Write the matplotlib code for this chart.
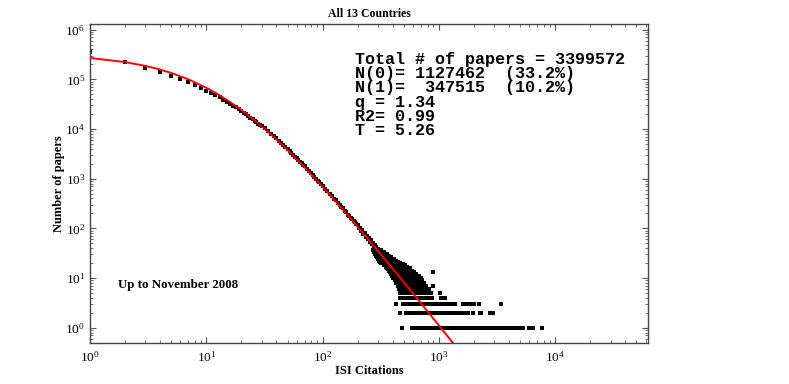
import numpy as np
import matplotlib.pyplot as plt

plt.rcParams['font.family'] = ['Liberation Serif', 'DejaVu Serif']
plt.rcParams['mathtext.fontset'] = 'stix'

# number of papers per citation value (upper, dense part)
cites = [1, 2, 3, 4, 5, 6, 7, 8, 9, 10, 11, 12, 13, 14, 15, 16, 17, 18, 19, 20,
         21, 22, 23, 24, 25, 26, 27, 28, 29, 30, 32, 34, 36, 38, 40, 42, 44, 46, 48,
         50, 52, 54, 56, 58, 60, 62, 64, 66, 68, 70, 73, 76, 79, 82, 85, 88, 91, 94, 97,
         100, 105, 110, 115, 120, 125, 130, 135, 140, 145, 150, 155, 160, 165, 170,
         175, 180, 185, 190, 195, 200, 205, 210, 215, 220, 225, 230, 235, 240, 245,
         250, 255, 260, 265, 270, 275, 280, 285, 290, 295, 300]
papers = [347515, 220800, 170200, 141600, 119100, 100500, 89100, 77400, 67500, 59600,
          53500, 47900, 43150, 38900, 35500, 32400, 29500, 27200, 25100, 23200,
          21400, 19700, 18300, 17000, 15850, 14800, 13800, 12900, 12200, 11400,
          10330, 9120, 8090, 7210, 6460, 5800, 5220, 4730, 4300,
          3920, 3570, 3270, 3010, 2770, 2570, 2360, 2190, 2030, 1890, 1760,
          1590, 1435, 1300, 1190, 1080, 995, 912, 840, 776,
          720, 615, 565, 495, 450, 395, 365, 325, 300, 265, 252, 222, 212, 190, 181,
          160, 157, 138, 136, 121, 118, 100, 104, 88, 91, 77, 80, 68, 71, 61,
          64, 54, 57, 48, 51, 43, 46, 39, 42, 35, 38]

# tail: citation ranges in which papers occur k times (horizontal rows)
row_count = [1, 2, 3, 4, 5, 6, 7, 8, 9, 10, 11, 12, 13, 14, 15, 16, 17, 18, 19, 20,
             21, 22, 24, 26, 28, 30, 33, 36]
row_lo = [583, 521, 489, 465, 460, 455, 450, 430, 420, 405, 395, 385, 378, 370, 362,
          355, 348, 340, 335, 320, 312, 305, 298, 292, 287, 283, 278, 272]
row_hi = [4920, 1790, 1375, 790, 860, 820, 780, 740, 720, 700, 670, 640, 610, 590,
          570, 560, 530, 510, 490, 465, 450, 430, 410, 390, 375, 360, 340, 320]

# isolated tail points
iso_cites = [479, 5320, 5990, 6470, 7650, 463, 1980, 2240, 2320, 2780, 2930,
             428, 1600, 1675, 1755, 1850, 2004, 2213, 3400, 830, 880, 1050, 1120,
             1020, 896, 884]
iso_papers = [1, 1, 1, 1, 1, 2, 2, 2, 2, 2, 2,
              3, 3, 3, 3, 3, 3, 3, 3, 4, 4, 4, 4,
              5, 7, 13]

# q-exponential fit (red line)
fit_cites = [1, 2, 3, 4, 5, 7, 10, 12, 15, 20, 30, 40, 50, 70, 100, 150, 200, 250,
             300, 400, 500, 700, 850, 1000, 1400]
fit_papers = [269000, 222600, 186200, 157400, 134300, 100000, 67600, 53500, 38700,
              24300, 11380, 6220, 3780, 1700, 692, 238, 109, 58.6, 35.2, 15.6, 8.28,
              3.15, 1.79, 1.12, 0.42]

info_lines = ['Total # of papers = 3399572',
              'N(0)= 1127462  (33.2%)',
              'N(1)=  347515  (10.2%)',
              'q = 1.34',
              'R2= 0.99',
              'T = 5.26']

x_major = [1, 10, 100, 1000, 10000]
y_major = [1, 10, 100, 1000, 10000, 100000, 1000000]

tx = []
ty = []
for k, lo, hi in zip(row_count, row_lo, row_hi):
    xs = np.arange(lo, hi + 1)
    tx.append(xs)
    ty.append(np.full(len(xs), k))
tx = np.concatenate(tx)
ty = np.concatenate(ty)

fig = plt.figure(figsize=(7.89, 3.84), dpi=100)
ax = fig.add_axes([0.1141, 0.1076, 0.7072, 0.8299])

ms = 7
ax.scatter(cites, papers, s=ms, marker='s', color='black', linewidths=0, zorder=2)
ax.scatter(tx, ty, s=ms, marker='s', color='black', linewidths=0, zorder=2)
ax.scatter(iso_cites, iso_papers, s=ms, marker='s', color='black', linewidths=0, zorder=2)
ax.plot(fit_cites, fit_papers, color='red', lw=1.4, zorder=3)

ax.set_xscale('log')
ax.set_yscale('log')
ax.set_xticks(x_major)
ax.set_yticks(y_major)
ax.set_xlim(1, 6.3e4)
ax.set_ylim(0.5, 1.3e6)

ax.tick_params(which='both', direction='in', top=True, right=True, labelsize=9.5,
               color='#555555')
ax.tick_params(which='major', length=4.5, width=0.8)
ax.tick_params(which='minor', length=2.5, width=0.6)
ax.tick_params(axis='x', which='major', pad=5.5)
for s in ax.spines.values():
    s.set_color('#444444')
    s.set_linewidth(1.0)

ax.set_title('All 13 Countries', fontsize=8.5, fontweight='bold', pad=5)
ax.set_xlabel('ISI Citations', fontsize=9, fontweight='bold', labelpad=0)
ax.set_ylabel('Number of papers', fontsize=9, fontweight='bold', labelpad=0.5)

for i, line in enumerate(info_lines):
    ax.text(0.475, 0.8745 - i * 0.04456, line, transform=ax.transAxes,
            family='Liberation Mono', fontweight='bold', fontsize=12.1, va='baseline')

ax.text(0.05, 0.18, 'Up to November 2008', transform=ax.transAxes,
        fontsize=9.3, fontweight='bold', va='center')

fig.savefig('out.png', dpi=100)
